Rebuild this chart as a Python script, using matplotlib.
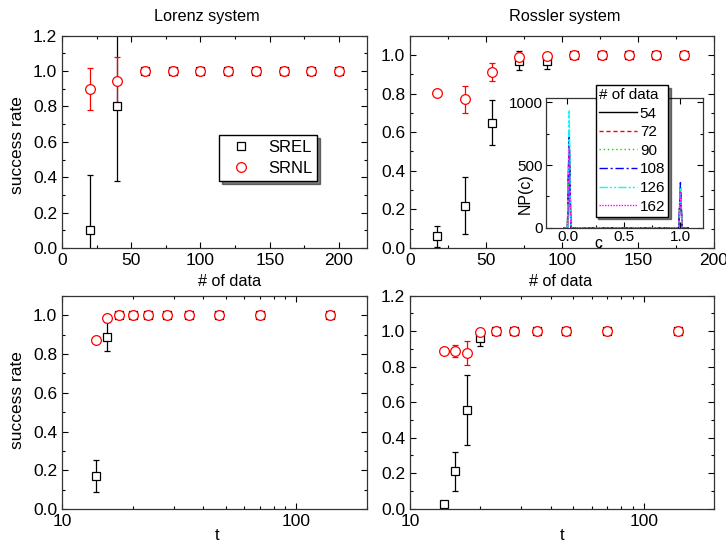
import matplotlib
matplotlib.use("Agg")
import matplotlib.pyplot as plt
from matplotlib.lines import Line2D
from matplotlib.ticker import MultipleLocator, LogLocator, FixedLocator, FixedFormatter, NullFormatter, FormatStrFormatter

plt.rcParams['font.family'] = ['Liberation Sans', 'DejaVu Sans']
plt.rcParams['font.size'] = 12

# --- Lorenz, vs # of data
lor_n = [20, 40, 60, 80, 100, 120, 140, 160, 180, 200]
lor_srel = [0.10, 0.80, 1.0, 1.0, 1.0, 1.0, 1.0, 1.0, 1.0, 1.0]
lor_srel_err = [0.315, 0.42, 0, 0, 0, 0, 0, 0, 0, 0]
lor_srnl = [0.90, 0.945, 1.0, 1.0, 1.0, 1.0, 1.0, 1.0, 1.0, 1.0]
lor_srnl_err = [0.118, 0.135, 0, 0, 0, 0, 0, 0, 0, 0]

# --- Rossler, vs # of data
ros_n = [18, 36, 54, 72, 90, 108, 126, 144, 162, 180]
ros_srel = [0.06, 0.22, 0.65, 0.97, 0.97, 1.0, 1.0, 1.0, 1.0, 1.0]
ros_srel_err = [0.055, 0.147, 0.115, 0.05, 0.04, 0, 0, 0, 0, 0]
ros_srnl = [0.805, 0.77, 0.913, 0.99, 0.997, 1.0, 1.0, 1.0, 1.0, 1.0]
ros_srnl_err = [0.005, 0.068, 0.048, 0.02, 0.012, 0, 0, 0, 0, 0]

# --- vs t (log axis)
t_vals = [14.0, 15.56, 17.5, 20.0, 23.33, 28.0, 35.0, 46.67, 70.0, 140.0]
lor_t_srel = [0.17, 0.888, 1.0, 1.0, 1.0, 1.0, 1.0, 1.0, 1.0, 1.0]
lor_t_srel_err = [0.082, 0.075, 0, 0, 0, 0, 0, 0, 0, 0]
lor_t_srnl = [0.872, 0.985, 1.0, 1.0, 1.0, 1.0, 1.0, 1.0, 1.0, 1.0]
lor_t_srnl_err = [0.003, 0.01, 0, 0, 0, 0, 0, 0, 0, 0]
ros_t_srel = [0.024, 0.21, 0.555, 0.96, 1.0, 1.0, 1.0, 1.0, 1.0, 1.0]
ros_t_srel_err = [0.01, 0.108, 0.197, 0.045, 0, 0, 0, 0, 0, 0]
ros_t_srnl = [0.89, 0.89, 0.878, 0.995, 1.0, 1.0, 1.0, 1.0, 1.0, 1.0]
ros_t_srnl_err = [0.003, 0.035, 0.068, 0.015, 0, 0, 0, 0, 0, 0]

# --- inset: NP(c) histograms
inset_c = [-0.03, 0.0, 0.015, 0.03, 0.5, 0.985, 1.0, 1.015, 1.07]
inset_labels = ['54', '72', '90', '108', '126', '162']
inset_np = [
    [0, 0, 720, 0, 0, 0, 300, 0, 0],
    [0, 0, 770, 0, 0, 0, 310, 0, 0],
    [0, 0, 700, 0, 0, 0, 320, 0, 0],
    [0, 0, 740, 0, 0, 0, 360, 0, 0],
    [0, 0, 940, 0, 0, 0, 310, 0, 0],
    [0, 0, 650, 0, 0, 0, 290, 0, 0],
]
inset_colors = ['black', 'red', '#00dd00', 'blue', 'cyan', 'magenta']
inset_styles = ['-', (0, (3, 2)), (0, (1, 2)), (0, (6, 2, 1.5, 2)), (0, (6, 1.5, 1.5, 1.5, 1.5, 1.5)), (0, (1, 1))]

W, H = 726, 545
fig = plt.figure(figsize=(W / 100, H / 100), dpi=100)


def px_axes(l, t, r, b):
    return fig.add_axes([l / W, 1 - b / H, (r - l) / W, (b - t) / H])


def style(ax, lsize=12.5):
    ax.tick_params(which='both', direction='in', top=True, right=True, labelsize=lsize, colors='black')
    ax.tick_params(which='major', length=4.5, width=0.8)
    ax.tick_params(which='minor', length=2.5, width=0.8)
    for s in ax.spines.values():
        s.set_color('#333333')
        s.set_linewidth(0.9)


def draw(ax, x, srel, srel_e, srnl, srnl_e):
    ax.errorbar(x, srel, yerr=srel_e, fmt='s', ms=6, mfc='white', mec='black', mew=0.9,
                ecolor='black', elinewidth=0.9, capsize=2.3, capthick=0.9)
    ax.errorbar(x, srnl, yerr=srnl_e, fmt='o', ms=7, mfc='white', mec='red', mew=0.9,
                ecolor='red', elinewidth=0.9, capsize=2.3, capthick=0.9)


ax1 = px_axes(62, 35.7, 366.7, 248)
ax2 = px_axes(410, 35.7, 714, 248)
ax3 = px_axes(62, 295.7, 366.7, 509.3)
ax4 = px_axes(410, 295.7, 714, 508.7)

draw(ax1, lor_n, lor_srel, lor_srel_err, lor_srnl, lor_srnl_err)
draw(ax2, ros_n, ros_srel, ros_srel_err, ros_srnl, ros_srnl_err)
draw(ax3, t_vals, lor_t_srel, lor_t_srel_err, lor_t_srnl, lor_t_srnl_err)
draw(ax4, t_vals, ros_t_srel, ros_t_srel_err, ros_t_srnl, ros_t_srnl_err)

ax1.set_xlim(0, 220)
ax1.set_ylim(0, 1.2)
ax2.set_xlim(0, 200)
ax2.set_ylim(0, 1.1)
for ax in (ax1, ax2):
    ax.xaxis.set_major_locator(MultipleLocator(50))
    ax.xaxis.set_minor_locator(MultipleLocator(25))
for ax in (ax3, ax4):
    ax.set_xscale('log')
    ax.set_xlim(10, 200)
    ax.xaxis.set_major_locator(FixedLocator([10, 100]))
    ax.xaxis.set_major_formatter(FixedFormatter(['10', '100']))
    ax.xaxis.set_minor_locator(LogLocator(base=10, subs=range(2, 10)))
    ax.xaxis.set_minor_formatter(NullFormatter())
ax3.set_ylim(0, 1.1)
ax4.set_ylim(0, 1.2)
for ax in (ax1, ax2, ax3, ax4):
    ax.yaxis.set_major_locator(MultipleLocator(0.2))
    ax.yaxis.set_minor_locator(MultipleLocator(0.1))
    ax.yaxis.set_major_formatter(FormatStrFormatter('%.1f'))
    style(ax)

# legend with markers only
h_srel = Line2D([], [], ls='none', marker='s', ms=6, mfc='white', mec='black', mew=0.9)
h_srnl = Line2D([], [], ls='none', marker='o', ms=7, mfc='white', mec='red', mew=0.9)
ax1.legend([h_srel, h_srnl], ['SREL', 'SRNL'], loc='upper left',
           bbox_to_anchor=(219 / W, 1 - 135 / H), bbox_transform=fig.transFigure,
           borderaxespad=0, fancybox=False, framealpha=1, edgecolor='black', fontsize=12,
           shadow={'color': 'black'}, handlelength=2.0, handletextpad=0.65, borderpad=0.3,
           labelspacing=0.35)

# inset
axi = px_axes(546, 98, 703, 227.7)
for y_np, col, ls, lab in zip(inset_np, inset_colors, inset_styles, inset_labels):
    axi.plot(inset_c, y_np, color=col, ls=ls, lw=1.0, label=lab)
axi.set_xlim(-0.19, 1.2)
axi.set_ylim(0, 1035)
axi.xaxis.set_major_locator(MultipleLocator(0.5))
axi.xaxis.set_minor_locator(MultipleLocator(0.25))
axi.yaxis.set_major_locator(MultipleLocator(500))
axi.yaxis.set_minor_locator(MultipleLocator(250))
style(axi, 11)
axi.tick_params(pad=2)
ilg = axi.legend(loc='upper left', bbox_to_anchor=(595.5 / W, 1 - 85 / H), bbox_transform=fig.transFigure,
                 borderaxespad=0, fancybox=False, framealpha=1, edgecolor='black', fontsize=11,
                 title='# of data', title_fontsize=11, shadow={'color': 'black'},
                 handlelength=2.5, handletextpad=0.2, borderpad=0.2, labelspacing=0.3)
ilg._legend_box.align = 'left'

# texts
fig.text(207 / W, 1 - 16 / H, 'Lorenz system', ha='center', va='center', fontsize=11.7)
fig.text(565 / W, 1 - 16 / H, 'Rossler system', ha='center', va='center', fontsize=11.7)
fig.text(230 / W, 1 - 282 / H, '# of data', ha='center', va='center', fontsize=11.7)
fig.text(561 / W, 1 - 282 / H, '# of data', ha='center', va='center', fontsize=11.7)
fig.text(216.7 / W, 1 - 535 / H, 't', ha='center', va='center', fontsize=12)
fig.text(562 / W, 1 - 535 / H, 't', ha='center', va='center', fontsize=12)
fig.text(18 / W, 1 - 145 / H, 'success rate', ha='center', va='center', rotation=90, fontsize=12.5)
fig.text(18 / W, 1 - 400 / H, 'success rate', ha='center', va='center', rotation=90, fontsize=12.5)
fig.text(525 / W, 1 - 194 / H, 'NP(c)', ha='center', va='center', rotation=90, fontsize=11.5)
fig.text(598 / W, 1 - 243 / H, 'c', ha='center', va='center', fontsize=11.5)

fig.savefig('out.png', dpi=100)
